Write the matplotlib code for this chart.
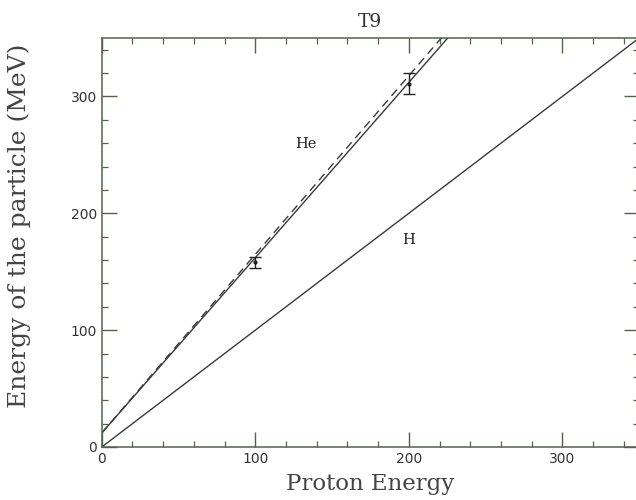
import numpy as np
import matplotlib
matplotlib.use("Agg")
import matplotlib.pyplot as plt
from matplotlib.ticker import MultipleLocator

# line endpoints (proton energy -> particle energy)
proton_range = [0, 350]
h_energy = [0, 350]
he_energy = [12, 537]
he_dashed = [12, 547]

# measured points with error bars
meas_x = [100, 200]
meas_y = [158, 311]
meas_err = [5, 9]

labels = ["He", "H"]
label_x = [133, 200]
label_y = [259, 177]

line_col = "#3a3a38"
axis_col = "#55604e"

fig = plt.figure(figsize=(6.36, 5.0), dpi=100)
ax = fig.add_axes([0.160, 0.106, 0.845, 0.818])

ax.plot(proton_range, h_energy, color=line_col, lw=1.0)
ax.plot(proton_range, he_energy, color=line_col, lw=1.0)
ax.plot(proton_range, he_dashed, color=line_col, lw=1.0, linestyle=(0, (6, 4)))
ax.errorbar(meas_x, meas_y, yerr=meas_err, fmt="o", ms=2.0, color="#222222",
            ecolor="#222222", elinewidth=1.0, capsize=4, capthick=1.0)

for t, x, y in zip(labels, label_x, label_y):
    ax.text(x, y, t, fontsize=10.5, family="DejaVu Serif", color="#222222",
            ha="center", va="center")

ax.set_xlim(0, 350)
ax.set_ylim(0, 350)
ax.xaxis.set_major_locator(MultipleLocator(100))
ax.xaxis.set_minor_locator(MultipleLocator(20))
ax.yaxis.set_major_locator(MultipleLocator(100))
ax.yaxis.set_minor_locator(MultipleLocator(20))
ax.tick_params(which="both", direction="in", top=True, right=True,
               color=axis_col, labelsize=10, labelcolor="#333333")
ax.tick_params(which="major", length=11, width=1.0)
ax.tick_params(which="minor", length=4.5, width=0.9)
for s in ax.spines.values():
    s.set_color(axis_col)
    s.set_linewidth(1.1)

ax.set_xlabel("Proton Energy", fontsize=16.5, family="DejaVu Serif",
              color="#444444", labelpad=5)
ax.set_ylabel("Energy of the particle (MeV)", fontsize=18,
              family="DejaVu Serif", color="#444444")
ax.yaxis.set_label_coords(-0.132, 0.54)
ax.set_title("T9", fontsize=13.5, family="DejaVu Serif", color="#333333", pad=8)

fig.savefig("out.png", dpi=100)
